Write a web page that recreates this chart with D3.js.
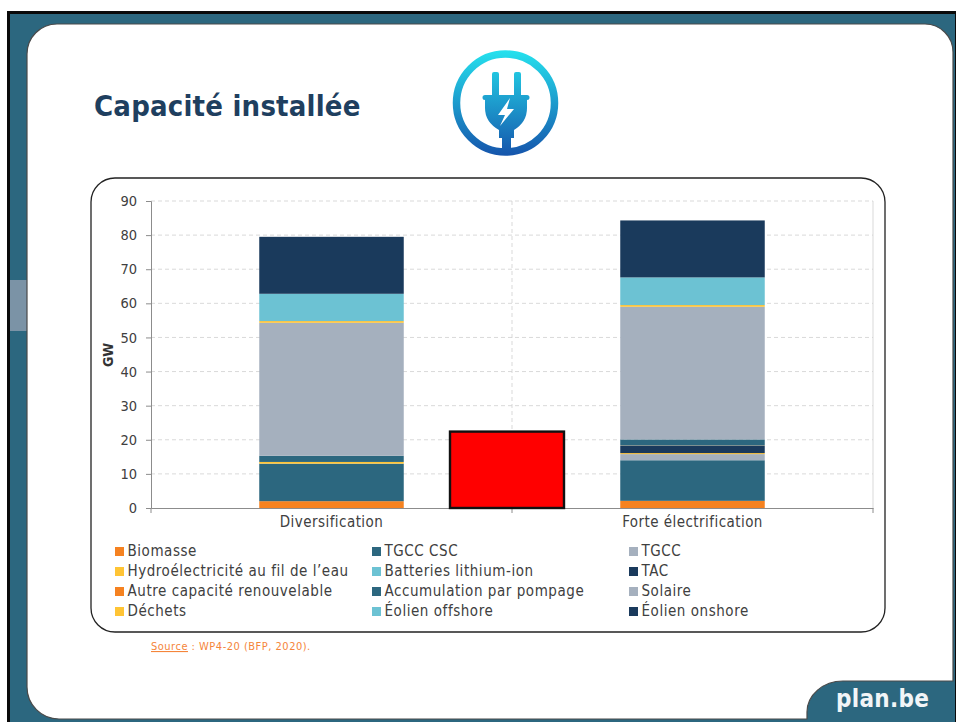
<!DOCTYPE html>
<html><head><meta charset="utf-8">
<script src="https://cdn.jsdelivr.net/npm/d3@7/dist/d3.min.js"></script>
<style>html,body{margin:0;padding:0;background:#fff;overflow:hidden}svg{display:block}text{font-family:"DejaVu Sans Condensed","DejaVu Sans",sans-serif}</style>
</head><body><svg id="c" width="956" height="722"></svg>
<script>
const categories = ["Diversification", "Forte électrification"];
const seriesNames = ["Biomasse","TGCC CSC","TGCC","Hydroélectricité au fil de l’eau","Batteries lithium-ion","TAC","Autre capacité renouvelable","Accumulation par pompage","Solaire","Déchets","Éolien offshore","Éolien onshore"];
const seriesColors = ["#f58220","#2c677f","#a5b0be","#ffc435","#6cc2d3","#1a3a5c","#f58220","#2c677f","#a5b0be","#ffc435","#6cc2d3","#1a3a5c"];
const diversification = [2,11,0,0.5,0,0,0,1.8,39,0.5,8,16.7];
const forteElectrification = [2.1,11.9,1.8,0.3,0,2.1,0.1,1.8,38.9,0.5,8.1,16.7];
const yTicks = [0,10,20,30,40,50,60,70,80,90];
const redBlock = [0,22.4];

const svg = d3.select("#c");
const fam = "'DejaVu Sans Condensed','DejaVu Sans',sans-serif";
// slide frame
svg.append("rect").attr("x",8.5).attr("y",12.5).attr("width",948).attr("height",711).attr("fill","#2c677f").attr("stroke","#0a0a0a").attr("stroke-width",3);
svg.append("rect").attr("x",10).attr("y",280).attr("width",17).attr("height",51).attr("fill","#7b93a6");
svg.append("path").attr("d","M27 54 A30 30 0 0 1 57 24 H925 A28 28 0 0 1 953 52 V681 H843 A36 31 0 0 0 807 712 V719 H59 A32 32 0 0 1 27 687 Z")
  .attr("fill","#fff").attr("stroke","#4a4a4a").attr("stroke-width",1.2);
svg.append("text").attr("x",94).attr("y",116).attr("font-size",29).attr("font-weight",700).attr("fill","#1f3f5f").style("font-family",fam).style("letter-spacing","0.2px").text("Capacité installée");
svg.append("text").attr("x",836).attr("y",707).attr("font-size",24).attr("font-weight",700).attr("fill","#f2f5f7").style("font-family",fam).style("letter-spacing","0.3px").text("plan.be");

// plug icon
const defs = svg.append("defs");
const g = defs.append("linearGradient").attr("id","plug").attr("gradientUnits","userSpaceOnUse").attr("x1",0).attr("y1",50).attr("x2",0).attr("y2",157);
g.append("stop").attr("offset",0).attr("stop-color","#25e2ee");
g.append("stop").attr("offset",1).attr("stop-color","#1553ab");
const ic = svg.append("g");
ic.append("circle").attr("cx",505.5).attr("cy",103).attr("r",49).attr("fill","none").attr("stroke","url(#plug)").attr("stroke-width",7.5);
ic.append("path").attr("fill","url(#plug)").attr("d","M492 74 a2 2 0 0 1 2 -2 h3 a2 2 0 0 1 2 2 V95 H514 V74 a2 2 0 0 1 2 -2 h3 a2 2 0 0 1 2 2 V95 H527 a2.5 2.5 0 0 1 0 5 H527 V108 Q527 122 514 130 V138 H511 V155 H502 V138 H499 V130 Q485 122 485 108 V100 H485 a2.5 2.5 0 0 1 0 -5 H492 Z");
ic.append("path").attr("fill","#fff").attr("d","M510 98 L498 115 H505 L500 126 L514 109 H507 Z");

// chart card
svg.append("rect").attr("x",91).attr("y",178).attr("width",794).attr("height",454).attr("rx",24).attr("fill","#fff").attr("stroke","#222").attr("stroke-width",1.3);

const y = d3.scaleLinear().domain([0,90]).range([508,201]);
const x = d3.scaleBand().domain(categories).range([151,873]).paddingInner(0).paddingOuter(0);
const barW = 144.5;

// grid
svg.append("g").selectAll("line").data(yTicks.slice(1)).join("line")
  .attr("x1",151).attr("x2",873).attr("y1",d=>y(d)).attr("y2",d=>y(d))
  .attr("stroke","#cfcfcf").attr("stroke-dasharray","4 3").attr("stroke-width",0.8);
const midX = x.range()[0]+x.bandwidth();
svg.append("line").attr("x1",midX).attr("x2",midX).attr("y1",201).attr("y2",508)
  .attr("stroke","#cfcfcf").attr("stroke-dasharray","4 3").attr("stroke-width",0.8);
svg.append("line").attr("x1",873).attr("x2",873).attr("y1",201).attr("y2",508).attr("stroke","#cfcfcf").attr("stroke-width",0.8);

// bars
const rows = categories.map((c,i)=>{const r={c}; seriesNames.forEach((s,j)=>r[s]=(i?forteElectrification:diversification)[j]); return r;});
const stack = d3.stack().keys(seriesNames)(rows);
stack.forEach((lay,j)=>{
  svg.append("g").selectAll("rect").data(lay).join("rect")
    .attr("x",d=>x(d.data.c)+x.bandwidth()/2-barW/2)
    .attr("width",barW)
    .attr("y",d=>y(d[1])).attr("height",d=>Math.max(0,y(d[0])-y(d[1])))
    .attr("fill",seriesColors[j]);
});

// axes
const ax = d3.axisLeft(y).tickValues(yTicks).tickSize(5).tickPadding(9);
const ga = svg.append("g").attr("transform","translate(151,0)").call(ax);
ga.selectAll("text").attr("font-size",14.5).attr("fill","#404040").style("font-family",fam);
ga.selectAll("line,path").attr("stroke","#8c8c8c");
const bx = d3.axisBottom(x).tickSize(0).tickPadding(8);
const gb = svg.append("g").attr("transform","translate(0,508)").call(bx);
gb.select("path").attr("stroke","#8c8c8c").attr("stroke-width",1.2);
gb.selectAll("text").attr("font-size",15).attr("fill","#404040").style("font-family",fam).style("letter-spacing","0.45px");
[151,512,873].forEach(px=>svg.append("line").attr("x1",px).attr("x2",px).attr("y1",508).attr("y2",513).attr("stroke","#8c8c8c"));
svg.append("text").attr("transform","translate(113,355) rotate(-90)").attr("text-anchor","middle").attr("font-size",14).attr("font-weight",700).attr("fill","#333").text("GW");

// red overlay block
svg.append("rect").attr("x",450).attr("width",114).attr("y",y(redBlock[1])).attr("height",y(redBlock[0])-y(redBlock[1])).attr("fill","#ff0000").attr("stroke","#111").attr("stroke-width",2.4);

// legend
const colX = [115,372,629], rowY = [551,571,591,611];
const lg = svg.append("g").selectAll("g").data(seriesNames).join("g")
  .attr("transform",(d,i)=>`translate(${colX[i%3]},${rowY[Math.floor(i/3)]})`);
lg.append("rect").attr("y",-4).attr("width",9).attr("height",9).attr("fill",(d,i)=>seriesColors[i]);
lg.append("text").attr("x",12.5).attr("y",5).attr("font-size",15).attr("fill","#404040").style("font-family",fam).style("letter-spacing","0.55px").text(d=>d);

// source
const st = svg.append("text").attr("x",151).attr("y",650).attr("font-size",11).attr("fill","#f5853a").style("font-family",fam).style("letter-spacing","0.5px");
st.append("tspan").attr("text-decoration","underline").text("Source");
st.append("tspan").text(" : WP4-20 (BFP, 2020).");
</script></body></html>
